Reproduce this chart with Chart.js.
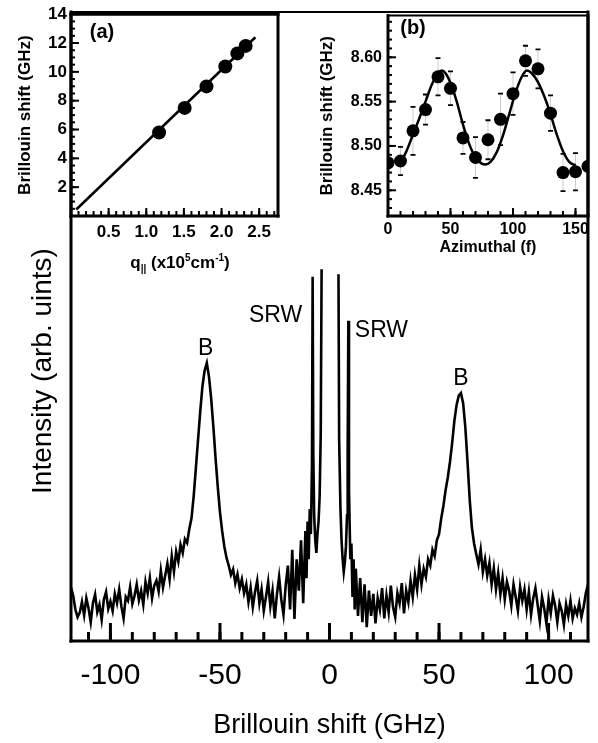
<!DOCTYPE html>
<html>
<head>
<meta charset="utf-8">
<script src="https://cdn.jsdelivr.net/npm/chart.js@4.4.0/dist/chart.umd.min.js"></script>
<style>
  html, body { margin: 0; padding: 0; background: #fff; }
  #wrap { position: relative; width: 598px; height: 743px; }
  #wrap canvas { position: absolute; top: 0; }
  #mainCanvas { left: 0; }
  #insetA { left: 0; }
  #insetB { left: 300px; }
</style>
</head>
<body>
<div id="wrap">
  <canvas id="mainCanvas" width="598" height="743"></canvas>
  <canvas id="insetA" width="290" height="280"></canvas>
  <canvas id="insetB" width="298" height="270"></canvas>
</div>
<script>
// ---- main spectrum (intensity in arb. units) ----
const leftWingStart = -118; // GHz, one value per GHz up to -14
const leftWing = [
  8.5, 7.2, 5.0, 3.8, 4.5, 6.2, 4.1, 6.8, 5.2, 3.0, 6.0, 7.4, 4.6, 5.8, 3.4, 6.6, 7.8, 5.1, 6.3,
  4.8, 7.5, 6.0, 8.2, 5.5, 3.6, 7.0, 6.4, 8.6, 5.9,
  7.2, 9.0, 6.5, 8.0, 5.8, 9.4, 7.6, 10.0, 6.8, 8.8,
  9.6, 7.9, 11.2, 8.5, 10.4, 12.3, 9.8, 13.5, 11.0, 14.2,
  12.6, 15.3, 14.0, 16.2, 15.6, 17.8, 19.5,
  23.0, 27.5, 32.0, 36.5, 40.5, 43.0, 44.2, 42.0, 38.5, 34.0, 29.0, 24.5, 20.5,
  17.5, 15.0, 13.2, 12.0, 10.5, 11.4, 9.2, 10.6, 8.4, 9.8,
  7.6, 9.0, 6.2, 8.5, 5.4, 7.8, 9.6, 6.0, 8.2, 4.8,
  7.0, 9.4, 5.5, 8.0, 3.6, 7.4, 10.2, 6.6, 4.2, 8.8,
  12.0, 5.0, 14.5, 3.5, 13.0, 8.0
];
const centreShift = [
  -13, -12, -11, -10.5, -10, -9.5, -9, -8.5, -8, -7.7, -7.4, -7, -6.5, -6, -5.5, -5, -4.5, -4, -3.6,
  0,
  4.1, 4.4, 5, 5.5, 6, 6.5, 7, 7.5, 8, 8.3, 8.6, 8.9, 9.5, 10, 10.5, 11, 11.5, 12, 13, 14, 15
];
const centreIntensity = [
  16.0, 6.0, 17.5, 10.0, 19.0, 13.0, 21.0, 17.0, 28.0, 57.9, 30.0, 20.0, 16.0, 14.0, 17.0, 19.0, 23.0, 33.0, 59.1,
  null,
  58.3, 32.0, 21.0, 16.0, 13.0, 11.0, 12.5, 15.0, 20.0, 30.0, 50.9, 24.0, 13.0, 15.5, 7.0, 13.0, 5.0, 11.5, 4.0, 10.0, 3.0
];
const rightWingStart = 16; // GHz, one value per GHz up to 118
const rightWing = [
  9.0, 2.2, 8.0, 4.0, 7.5, 2.8, 6.8, 5.0, 8.4, 3.6,
  7.2, 4.6, 8.8, 5.4, 3.8, 7.6, 6.0, 9.2, 4.4, 8.0,
  6.2, 9.6, 7.0, 10.5, 8.2, 12.0, 9.0, 11.5, 10.2, 13.0,
  12.0, 14.5, 13.5, 16.0, 17.0, 19.5, 21.5,
  24.0, 26.0, 28.5, 31.5, 35.0, 37.5, 39.0, 39.4, 37.8, 34.0, 28.5, 22.5, 18.0, 15.5, 13.8,
  12.2, 14.5, 11.0, 13.0, 10.4, 12.4, 9.0, 11.6, 8.2, 10.8,
  7.4, 10.0, 6.6, 9.4, 8.0, 5.6, 9.0, 7.0, 4.8, 8.6,
  6.4, 8.2, 5.0, 7.8, 4.2, 6.8, 8.4, 5.8, 3.2, 7.0,
  5.2, 2.8, 6.6, 4.4, 7.2, 5.6, 3.0, 6.0, 4.8, 2.6,
  5.8, 4.0, 6.4, 3.6, 5.2, 4.2, 6.0, 3.8, 5.4, 7.6, 9.0
];
const mainTickLabels = [-100, -50, 0, 50, 100];

// ---- inset (a): dispersion ----
const qPar = [1.17, 1.51, 1.80, 2.05, 2.21, 2.32];
const shiftA = [5.79, 7.50, 8.99, 10.37, 11.28, 11.80];
const fitQ = [0.07, 2.45];
const fitShiftA = [0.45, 12.4];
const aTickX = [0.5, 1.0, 1.5, 2.0, 2.5];
const aTickY = [2, 4, 6, 8, 10, 12, 14];

// ---- inset (b): azimuthal dependence ----
const azimuth = [0, 10, 20, 30, 40, 50, 60, 70, 80, 90, 100, 110, 120, 130, 140, 150, 160];
const shiftB = [8.481, 8.483, 8.517, 8.541, 8.578, 8.565, 8.509, 8.487, 8.507, 8.530, 8.559, 8.596, 8.587, 8.537, 8.470, 8.471, 8.477];
const errB = [0, 0.016, 0.027, 0.017, 0.021, 0.019, 0.018, 0.023, 0.022, 0.029, 0.024, 0.017, 0.022, 0.020, 0.021, 0.021, 0];
const fitAz = [10, 15, 20, 25, 30, 35, 40, 43, 46, 50, 55, 60, 65, 70, 75, 78, 82, 87, 92, 97, 102, 107, 111, 115, 120, 125, 130, 135, 140, 145, 150];
const fitShiftB = [8.481, 8.495, 8.513, 8.531, 8.550, 8.569, 8.582, 8.585, 8.582, 8.571, 8.550, 8.524, 8.502, 8.487, 8.480, 8.479, 8.482, 8.493, 8.512, 8.536, 8.560, 8.578, 8.585, 8.582, 8.572, 8.556, 8.536, 8.513, 8.494, 8.482, 8.478];
const bTickX = [0, 50, 100, 150];
const bTickY = [8.45, 8.50, 8.55, 8.60];

const FONT = '"Liberation Sans", Arial, Helvetica, sans-serif';
Chart.defaults.font.family = FONT;
Chart.defaults.color = '#000';

function range(a, b, step) {
  const out = [];
  for (let v = a; v <= b + step / 1000; v += step) out.push(Math.round(v * 1000) / 1000);
  return out;
}

const framePlugin = {
  id: 'frame',
  afterDraw(chart, args, opts) {
    const {ctx, chartArea: a} = chart;
    ctx.save();
    ctx.strokeStyle = '#000';
    ctx.lineCap = 'square';
    const side = (w, x1, y1, x2, y2) => {
      ctx.lineWidth = w;
      ctx.beginPath(); ctx.moveTo(x1, y1); ctx.lineTo(x2, y2); ctx.stroke();
    };
    side(opts.top, a.left, a.top, a.right, a.top);
    side(opts.width, a.left, a.top, a.left, a.bottom);
    side(opts.width, a.right, a.top, a.right, a.bottom);
    side(opts.width, a.left, a.bottom, a.right, a.bottom);
    ctx.restore();
  }
};

const insideTicks = {
  id: 'insideTicks',
  afterDatasetsDraw(chart, args, opts) {
    const {ctx, chartArea: a} = chart;
    ctx.save();
    ctx.strokeStyle = '#000';
    (opts.marks || []).forEach(m => {
      const scale = chart.scales[m.axis];
      ctx.lineWidth = m.width;
      m.values.forEach(v => {
        const p = scale.getPixelForValue(v);
        ctx.beginPath();
        if (m.axis === 'x') { ctx.moveTo(p, a.bottom); ctx.lineTo(p, a.bottom - m.len); }
        else { ctx.moveTo(a.left, p); ctx.lineTo(a.left + m.len, p); }
        ctx.stroke();
      });
    });
    ctx.restore();
  }
};

const texts = {
  id: 'texts',
  afterDraw(chart, args, opts) {
    const ctx = chart.ctx;
    (opts.items || []).forEach(t => {
      let x = t.x, y = t.y;
      if (t.data) {
        x = chart.scales.x.getPixelForValue(t.x);
        y = chart.scales.y.getPixelForValue(t.y);
      }
      ctx.save();
      ctx.fillStyle = '#000';
      ctx.translate(x, y);
      if (t.rotate) ctx.rotate(t.rotate);
      if (t.runs) {
        // text with sub/superscripts
        let w = 0;
        t.runs.forEach(r => { ctx.font = r.font; w += ctx.measureText(r.text).width; });
        let cx = -w / 2;
        ctx.textAlign = 'left';
        ctx.textBaseline = 'alphabetic';
        t.runs.forEach(r => {
          ctx.font = r.font;
          ctx.fillText(r.text, cx, r.dy || 0);
          cx += ctx.measureText(r.text).width;
        });
      } else {
        ctx.font = t.font;
        ctx.textAlign = 'center';
        ctx.textBaseline = 'middle';
        ctx.fillText(t.text, 0, 0);
      }
      ctx.restore();
    });
  }
};

const errorBars = {
  id: 'errorBars',
  beforeDatasetsDraw(chart) {
    const {ctx, chartArea: a} = chart;
    const xs = chart.scales.x, ys = chart.scales.y;
    ctx.save();
    ctx.beginPath(); ctx.rect(a.left, a.top, a.right - a.left, a.bottom - a.top); ctx.clip();
    azimuth.forEach((az, i) => {
      if (!errB[i]) return;
      const x = xs.getPixelForValue(az);
      const y1 = ys.getPixelForValue(shiftB[i] + errB[i]);
      const y2 = ys.getPixelForValue(shiftB[i] - errB[i]);
      ctx.strokeStyle = '#aaa';
      ctx.lineWidth = 0.6;
      ctx.beginPath(); ctx.moveTo(x, y1); ctx.lineTo(x, y2); ctx.stroke();
      ctx.strokeStyle = '#000';
      ctx.lineWidth = 1.8;
      ctx.beginPath();
      ctx.moveTo(x - 2.5, y1); ctx.lineTo(x + 2.5, y1);
      ctx.moveTo(x - 2.5, y2); ctx.lineTo(x + 2.5, y2);
      ctx.stroke();
    });
    ctx.restore();
  }
};

function setTicks(values) {
  return scale => { scale.ticks = values.map(v => ({value: v})); };
}

// ---- main chart ----
const spectrum = [];
leftWing.forEach((v, i) => spectrum.push({x: leftWingStart + i, y: v}));
centreShift.forEach((s, i) => spectrum.push({x: s, y: centreIntensity[i]}));
rightWing.forEach((v, i) => spectrum.push({x: rightWingStart + i, y: v}));

new Chart(document.getElementById('mainCanvas'), {
  type: 'scatter',
  data: {
    datasets: [{
      data: spectrum,
      showLine: true,
      spanGaps: false,
      borderColor: '#000',
      borderWidth: 2.6,
      pointRadius: 0,
      tension: 0
    }]
  },
  options: {
    responsive: false,
    animation: false,
    layout: { padding: { top: 12, right: 10, left: 0, bottom: 0 } },
    plugins: {
      legend: { display: false },
      tooltip: { enabled: false },
      frame: { width: 3, top: 2 },
      insideTicks: {
        marks: [
          { axis: 'x', values: range(-110, 110, 10), len: 9, width: 3 },
          { axis: 'x', values: mainTickLabels, len: 18, width: 3 }
        ]
      },
      texts: {
        items: [
          { text: 'B', x: -56.5, y: 46.4, data: true, font: '23px ' + FONT },
          { text: 'B', x: 60, y: 41.7, data: true, font: '23px ' + FONT },
          { text: 'SRW', x: -24.6, y: 51.7, data: true, font: '23px ' + FONT },
          { text: 'SRW', x: 23.7, y: 49.4, data: true, font: '23px ' + FONT },
          { text: 'Intensity (arb. uints)', x: 43, y: 371, rotate: -Math.PI / 2, font: '28px ' + FONT }
        ]
      }
    },
    scales: {
      x: {
        type: 'linear',
        min: -118, max: 118,
        grid: { display: false, drawTicks: false },
        border: { display: false },
        afterBuildTicks: setTicks(mainTickLabels),
        ticks: { font: { size: 30 }, padding: 17, maxRotation: 0, autoSkip: false },
        title: { display: true, text: 'Brillouin shift (GHz)', font: { size: 27 }, padding: { top: 0, bottom: 1 } },
        afterFit: s => { s.height = 102; }
      },
      y: {
        min: 0, max: 100,
        grid: { display: false, drawTicks: false },
        border: { display: false },
        ticks: { display: false },
        afterFit: s => { s.width = 71; }
      }
    }
  },
  plugins: [insideTicks, framePlugin, texts]
});

// ---- inset (a) ----
new Chart(document.getElementById('insetA'), {
  type: 'scatter',
  data: {
    datasets: [
      {
        data: fitQ.map((q, i) => ({x: q, y: fitShiftA[i]})),
        showLine: true, borderColor: '#000', borderWidth: 2.5, pointRadius: 0
      },
      {
        data: qPar.map((q, i) => ({x: q, y: shiftA[i]})),
        pointRadius: 7, backgroundColor: '#000', borderColor: '#000', borderWidth: 0
      }
    ]
  },
  options: {
    responsive: false,
    animation: false,
    layout: { padding: { top: 12, right: 12, left: 0, bottom: 0 } },
    plugins: {
      legend: { display: false },
      tooltip: { enabled: false },
      frame: { width: 3, top: 3 },
      insideTicks: {
        marks: [
          { axis: 'x', values: range(0.1, 2.7, 0.1), len: 5, width: 2 },
          { axis: 'x', values: aTickX, len: 8, width: 2 },
          { axis: 'y', values: range(0.5, 13.5, 0.5), len: 4, width: 2 },
          { axis: 'y', values: aTickY, len: 8, width: 2 }
        ]
      },
      texts: {
        items: [
          { text: '(a)', x: 102, y: 32, font: 'bold 20px ' + FONT },
          { x: 180, y: 268, runs: [
            { text: 'q', font: 'bold 17px ' + FONT },
            { text: '||', font: 'bold 10px ' + FONT, dy: 4 },
            { text: ' (x10', font: 'bold 17px ' + FONT },
            { text: '5', font: 'bold 10px ' + FONT, dy: -7 },
            { text: 'cm', font: 'bold 17px ' + FONT },
            { text: '-1', font: 'bold 10px ' + FONT, dy: -7 },
            { text: ')', font: 'bold 17px ' + FONT }
          ] }
        ]
      }
    },
    scales: {
      x: {
        type: 'linear', min: 0, max: 2.75,
        grid: { display: false, drawTicks: false },
        border: { display: false },
        afterBuildTicks: setTicks(aTickX),
        ticks: { font: { size: 17, weight: 'bold' }, padding: 6, maxRotation: 0, autoSkip: false,
                 callback: v => v.toFixed(1) },
        afterFit: s => { s.height = 64; }
      },
      y: {
        min: 0, max: 14,
        grid: { display: false, drawTicks: false },
        border: { display: false },
        afterBuildTicks: setTicks(aTickY),
        ticks: { font: { size: 17, weight: 'bold' }, padding: 4, autoSkip: false },
        title: { display: true, text: 'Brillouin shift (GHz)', font: { size: 17, weight: 'bold' }, padding: { top: 15 } },
        afterFit: s => { s.width = 71; }
      }
    }
  },
  plugins: [insideTicks, framePlugin, texts]
});

// ---- inset (b) ----
new Chart(document.getElementById('insetB'), {
  type: 'scatter',
  data: {
    datasets: [
      {
        data: fitAz.map((a, i) => ({x: a, y: fitShiftB[i]})),
        showLine: true, borderColor: '#000', borderWidth: 2.5, pointRadius: 0,
        tension: 0.4, cubicInterpolationMode: 'monotone'
      },
      {
        data: azimuth.map((a, i) => ({x: a, y: shiftB[i]})),
        pointRadius: 6.5, backgroundColor: '#000', borderColor: '#000', borderWidth: 0
      }
    ]
  },
  options: {
    responsive: false,
    animation: false,
    layout: { padding: { top: 13, right: 10, left: 0, bottom: 0 } },
    plugins: {
      legend: { display: false },
      tooltip: { enabled: false },
      frame: { width: 3, top: 2 },
      insideTicks: {
        marks: [
          { axis: 'x', values: range(10, 150, 10), len: 5, width: 2 },
          { axis: 'x', values: bTickX, len: 8, width: 2 },
          { axis: 'y', values: range(8.43, 8.64, 0.01), len: 4, width: 2 },
          { axis: 'y', values: bTickY, len: 8, width: 2 }
        ]
      },
      texts: {
        items: [
          { text: '(b)', x: 113, y: 28, font: 'bold 20px ' + FONT }
        ]
      }
    },
    scales: {
      x: {
        type: 'linear', min: 0, max: 160,
        grid: { display: false, drawTicks: false },
        border: { display: false },
        afterBuildTicks: setTicks(bTickX),
        ticks: { font: { size: 16, weight: 'bold' }, padding: 4, maxRotation: 0, autoSkip: false },
        title: { display: true, text: 'Azimuthal (f)', font: { size: 16, weight: 'bold' }, padding: { top: 0, bottom: 13 } },
        afterFit: s => { s.height = 54; }
      },
      y: {
        min: 8.421, max: 8.647,
        grid: { display: false, drawTicks: false },
        border: { display: false },
        afterBuildTicks: setTicks(bTickY),
        ticks: { font: { size: 16, weight: 'bold' }, padding: 6, autoSkip: false,
                 callback: v => v.toFixed(2) },
        title: { display: true, text: 'Brillouin shift (GHz)', font: { size: 17, weight: 'bold' }, padding: { top: 17 } },
        afterFit: s => { s.width = 88; }
      }
    }
  },
  plugins: [errorBars, insideTicks, framePlugin, texts]
});
</script>
</body>
</html>
